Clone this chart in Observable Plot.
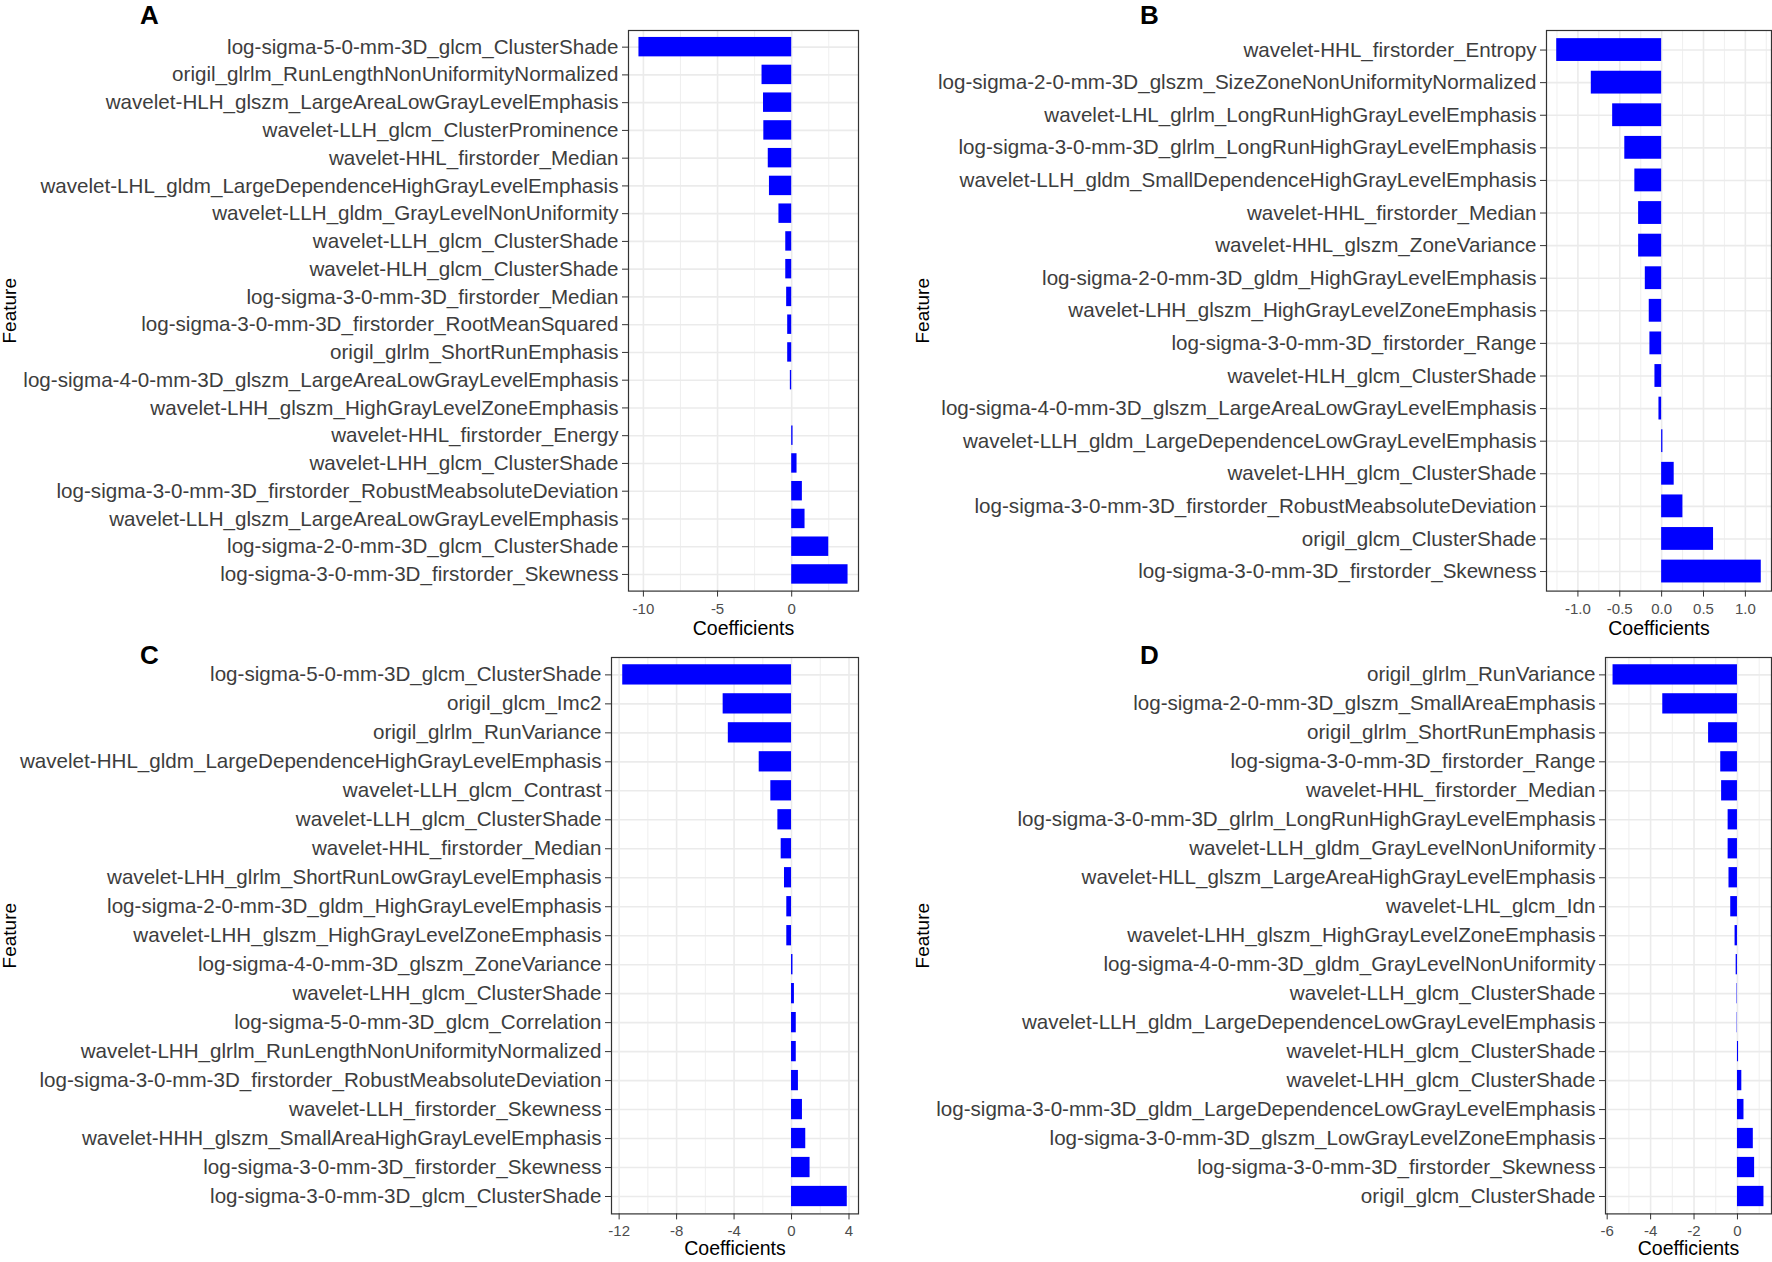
<!DOCTYPE html>
<html><head><meta charset="utf-8">
<script src="https://cdn.jsdelivr.net/npm/d3@7"></script>
<script src="https://cdn.jsdelivr.net/npm/@observablehq/plot@0.6"></script>
<style>
body{margin:0;background:#fff;}
#wrap{position:relative;width:1772px;height:1262px;overflow:hidden;background:#fff;}
#wrap svg{position:absolute;}
</style></head><body><div id="wrap"></div>
<script>
// ---------- data ----------
const featuresA = [
  "log-sigma-5-0-mm-3D_glcm_ClusterShade",
  "origil_glrlm_RunLengthNonUniformityNormalized",
  "wavelet-HLH_glszm_LargeAreaLowGrayLevelEmphasis",
  "wavelet-LLH_glcm_ClusterProminence",
  "wavelet-HHL_firstorder_Median",
  "wavelet-LHL_gldm_LargeDependenceHighGrayLevelEmphasis",
  "wavelet-LLH_gldm_GrayLevelNonUniformity",
  "wavelet-LLH_glcm_ClusterShade",
  "wavelet-HLH_glcm_ClusterShade",
  "log-sigma-3-0-mm-3D_firstorder_Median",
  "log-sigma-3-0-mm-3D_firstorder_RootMeanSquared",
  "origil_glrlm_ShortRunEmphasis",
  "log-sigma-4-0-mm-3D_glszm_LargeAreaLowGrayLevelEmphasis",
  "wavelet-LHH_glszm_HighGrayLevelZoneEmphasis",
  "wavelet-HHL_firstorder_Energy",
  "wavelet-LHH_glcm_ClusterShade",
  "log-sigma-3-0-mm-3D_firstorder_RobustMeabsoluteDeviation",
  "wavelet-LLH_glszm_LargeAreaLowGrayLevelEmphasis",
  "log-sigma-2-0-mm-3D_glcm_ClusterShade",
  "log-sigma-3-0-mm-3D_firstorder_Skewness"
];
const coefA = [-10.3, -2.0, -1.9, -1.88, -1.58, -1.5, -0.86, -0.4, -0.4, -0.34, -0.27, -0.27, -0.09, 0, 0.09, 0.36, 0.72, 0.9, 2.5, 3.8];
const ticksA = [-10, -5, 0];
const tickLabelsA = ["-10", "-5", "0"];
const minorA = [-7.5, -2.5, 2.5];

const featuresB = [
  "wavelet-HHL_firstorder_Entropy",
  "log-sigma-2-0-mm-3D_glszm_SizeZoneNonUniformityNormalized",
  "wavelet-LHL_glrlm_LongRunHighGrayLevelEmphasis",
  "log-sigma-3-0-mm-3D_glrlm_LongRunHighGrayLevelEmphasis",
  "wavelet-LLH_gldm_SmallDependenceHighGrayLevelEmphasis",
  "wavelet-HHL_firstorder_Median",
  "wavelet-HHL_glszm_ZoneVariance",
  "log-sigma-2-0-mm-3D_gldm_HighGrayLevelEmphasis",
  "wavelet-LHH_glszm_HighGrayLevelZoneEmphasis",
  "log-sigma-3-0-mm-3D_firstorder_Range",
  "wavelet-HLH_glcm_ClusterShade",
  "log-sigma-4-0-mm-3D_glszm_LargeAreaLowGrayLevelEmphasis",
  "wavelet-LLH_gldm_LargeDependenceLowGrayLevelEmphasis",
  "wavelet-LHH_glcm_ClusterShade",
  "log-sigma-3-0-mm-3D_firstorder_RobustMeabsoluteDeviation",
  "origil_glcm_ClusterShade",
  "log-sigma-3-0-mm-3D_firstorder_Skewness"
];
const coefB = [-1.253, -0.84, -0.585, -0.44, -0.32, -0.275, -0.275, -0.195, -0.148, -0.14, -0.08, -0.032, 0.015, 0.15, 0.254, 0.62, 1.19];
const ticksB = [-1, -0.5, 0, 0.5, 1];
const tickLabelsB = ["-1.0", "-0.5", "0.0", "0.5", "1.0"];
const minorB = [-1.25, -0.75, -0.25, 0.25, 0.75, 1.25];

const featuresC = [
  "log-sigma-5-0-mm-3D_glcm_ClusterShade",
  "origil_glcm_Imc2",
  "origil_glrlm_RunVariance",
  "wavelet-HHL_gldm_LargeDependenceHighGrayLevelEmphasis",
  "wavelet-LLH_glcm_Contrast",
  "wavelet-LLH_glcm_ClusterShade",
  "wavelet-HHL_firstorder_Median",
  "wavelet-LHH_glrlm_ShortRunLowGrayLevelEmphasis",
  "log-sigma-2-0-mm-3D_gldm_HighGrayLevelEmphasis",
  "wavelet-LHH_glszm_HighGrayLevelZoneEmphasis",
  "log-sigma-4-0-mm-3D_glszm_ZoneVariance",
  "wavelet-LHH_glcm_ClusterShade",
  "log-sigma-5-0-mm-3D_glcm_Correlation",
  "wavelet-LHH_glrlm_RunLengthNonUniformityNormalized",
  "log-sigma-3-0-mm-3D_firstorder_RobustMeabsoluteDeviation",
  "wavelet-LLH_firstorder_Skewness",
  "wavelet-HHH_glszm_SmallAreaHighGrayLevelEmphasis",
  "log-sigma-3-0-mm-3D_firstorder_Skewness",
  "log-sigma-3-0-mm-3D_glcm_ClusterShade"
];
const coefC = [-11.75, -4.76, -4.4, -2.25, -1.44, -0.95, -0.72, -0.49, -0.33, -0.33, 0.1, 0.2, 0.33, 0.33, 0.48, 0.76, 0.99, 1.29, 3.88];
const ticksC = [-12, -8, -4, 0, 4];
const tickLabelsC = ["-12", "-8", "-4", "0", "4"];
const minorC = [-10, -6, -2, 2];

const featuresD = [
  "origil_glrlm_RunVariance",
  "log-sigma-2-0-mm-3D_glszm_SmallAreaEmphasis",
  "origil_glrlm_ShortRunEmphasis",
  "log-sigma-3-0-mm-3D_firstorder_Range",
  "wavelet-HHL_firstorder_Median",
  "log-sigma-3-0-mm-3D_glrlm_LongRunHighGrayLevelEmphasis",
  "wavelet-LLH_gldm_GrayLevelNonUniformity",
  "wavelet-HLL_glszm_LargeAreaHighGrayLevelEmphasis",
  "wavelet-LHL_glcm_Idn",
  "wavelet-LHH_glszm_HighGrayLevelZoneEmphasis",
  "log-sigma-4-0-mm-3D_gldm_GrayLevelNonUniformity",
  "wavelet-LLH_glcm_ClusterShade",
  "wavelet-LLH_gldm_LargeDependenceLowGrayLevelEmphasis",
  "wavelet-HLH_glcm_ClusterShade",
  "wavelet-LHH_glcm_ClusterShade",
  "log-sigma-3-0-mm-3D_gldm_LargeDependenceLowGrayLevelEmphasis",
  "log-sigma-3-0-mm-3D_glszm_LowGrayLevelZoneEmphasis",
  "log-sigma-3-0-mm-3D_firstorder_Skewness",
  "origil_glcm_ClusterShade"
];
const coefD = [-5.73, -3.44, -1.33, -0.77, -0.73, -0.43, -0.43, -0.39, -0.31, -0.11, -0.06, -0.02, -0.015, 0.05, 0.2, 0.3, 0.73, 0.79, 1.22];
const ticksD = [-6, -4, -2, 0];
const tickLabelsD = ["-6", "-4", "-2", "0"];
const minorD = [-5, -3, -1, 1];

const panelLetters = ["A", "B", "C", "D"];
const xTitle = "Coefficients";
const yTitle = "Feature";

// ---------- layout ----------
const FONT = "'Liberation Sans', Arial, Helvetica, sans-serif";
const panels = [
  {features: featuresA, coef: coefA, ticks: ticksA, labels: tickLabelsA, minor: minorA, letter: panelLetters[0],
   left: 0, top: 0, w: 886, h: 640, ml: 628, mr: 28, mt: 30, mb: 49.4, letterX: 149, letterY: 15, featX: 9, titleDy: 38, tp: 6},
  {features: featuresB, coef: coefB, ticks: ticksB, labels: tickLabelsB, minor: minorB, letter: panelLetters[1],
   left: 886, top: 0, w: 886, h: 640, ml: 660, mr: 1, mt: 30, mb: 49.4, letterX: 263, letterY: 15, featX: 36, titleDy: 38, tp: 6},
  {features: featuresC, coef: coefC, ticks: ticksC, labels: tickLabelsC, minor: minorC, letter: panelLetters[2],
   left: 0, top: 640, w: 886, h: 622, ml: 611, mr: 28, mt: 17, mb: 48.6, letterX: 149, letterY: 15, featX: 9, titleDy: 35, tp: 5},
  {features: featuresD, coef: coefD, ticks: ticksD, labels: tickLabelsD, minor: minorD, letter: panelLetters[3],
   left: 886, top: 640, w: 886, h: 622, ml: 719, mr: 1, mt: 17, mb: 48.6, letterX: 263, letterY: 15, featX: 36, titleDy: 35, tp: 5}
];

const wrap = document.getElementById("wrap");
for (const p of panels) {
  const data = p.features.map((f, i) => ({feature: f, value: p.coef[i]}));
  const [lo, hi] = d3.extent(p.coef);
  const pad = (hi - lo) * 0.05;
  const fmt = new Map(p.ticks.map((t, i) => [t, p.labels[i]]));
  const chart = Plot.plot({
    width: p.w, height: p.h,
    marginLeft: p.ml, marginRight: p.mr, marginTop: p.mt, marginBottom: p.mb,
    style: {fontFamily: FONT, background: "transparent", overflow: "visible"},
    x: {domain: [lo - pad, hi + pad]},
    y: {domain: p.features, paddingInner: 0.3, paddingOuter: 0.25, round: false},
    marks: [
      Plot.gridX(p.minor, {stroke: "#ebebeb", strokeOpacity: 1, strokeWidth: 0.8}),
      Plot.gridX(p.ticks, {stroke: "#ebebeb", strokeOpacity: 1, strokeWidth: 1.6}),
      Plot.gridY(p.features, {stroke: "#ebebeb", strokeOpacity: 1, strokeWidth: 1.6}),
      Plot.barX(data, {x: "value", y: "feature", fill: "#0000ff"}),
      Plot.frame({stroke: "#333333", strokeWidth: 1.2}),
      Plot.axisY({tickSize: 6, tickPadding: 4, fontSize: 20.6, color: "#3d3d3d", stroke: "#333333", label: null}),
      Plot.axisX(p.ticks, {tickSize: 6, tickPadding: p.tp, fontSize: 15, color: "#4d4d4d", stroke: "#333333", tickFormat: d => fmt.get(d), label: null}),
      Plot.text([xTitle], {text: d => d, frameAnchor: "bottom", dy: p.titleDy, fontSize: 19.5, fill: "#000", lineAnchor: "middle", textAnchor: "middle"}),
      Plot.text([yTitle], {text: d => d, frameAnchor: "left", dx: p.featX - p.ml, rotate: -90, fontSize: 19, fill: "#000", lineAnchor: "middle", textAnchor: "middle"}),
      Plot.text([p.letter], {text: d => d, frameAnchor: "top-left", dx: p.letterX - p.ml, dy: p.letterY - p.mt,
        fontSize: 26, fontWeight: "bold", fill: "#000", lineAnchor: "middle", textAnchor: "middle"})
    ]
  });
  chart.style.left = p.left + "px";
  chart.style.top = p.top + "px";
  wrap.appendChild(chart);
}
</script>
</body></html>
